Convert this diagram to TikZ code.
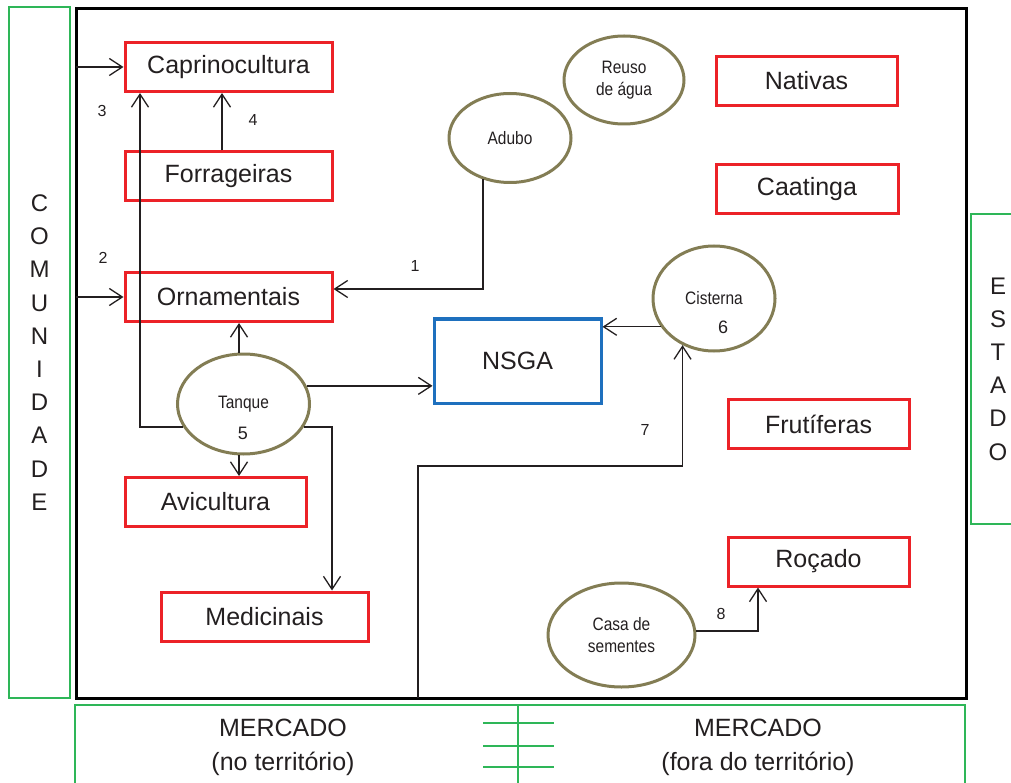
\documentclass[tikz,border=0pt]{standalone}
\usepackage{fontspec}
\setmainfont{Liberation Sans}
\newfontfamily\narrowsans[FakeStretch=0.86]{Liberation Sans}
\usetikzlibrary{arrows.meta,shapes.geometric}
\definecolor{boxred}{RGB}{236,34,40}
\definecolor{zonegreen}{RGB}{46,182,88}
\definecolor{hubblue}{RGB}{30,112,190}
\definecolor{resolive}{RGB}{131,125,84}
\definecolor{ink}{RGB}{35,31,32}
\begin{document}
\begin{tikzpicture}[x=1pt,y=-1pt,
  every node/.style={text=ink},
  unit/.style={draw=boxred, line width=3pt, minimum width=207pt, minimum height=49pt,
    inner sep=0pt, font=\fontsize{25}{30}\selectfont},
  hub/.style={draw=hubblue, line width=3pt, minimum width=167pt, minimum height=84pt,
    inner sep=0pt, font=\fontsize{25}{30}\selectfont},
  resource/.style={ellipse, draw=resolive, line width=3pt, inner sep=0pt, align=center,
    font=\narrowsans\fontsize{18}{22}\selectfont},
  zone/.style={draw=zonegreen, line width=2.5pt, inner sep=0pt, outer sep=0pt},
  zonetext/.style={align=center, font=\fontsize{24}{33.2}\selectfont},
  num/.style={font=\fontsize{16}{19}\selectfont, inner sep=0pt},
  flow/.style={draw=ink, line width=1.3pt, -{Straight Barb[length=13pt,width=17pt]}},
  link/.style={draw=ink, line width=1.3pt}
]
\useasboundingbox (0,0) rectangle (1011,783);
\clip (0,0) rectangle (1011,783);

% surrounding zones
\node[zone, minimum width=61pt, minimum height=691pt, zonetext] (comu) at (39.5,352.5)
  {C\\O\\M\\U\\N\\I\\D\\A\\D\\E};
\node[zone, minimum width=54pt, minimum height=310pt, zonetext] (esta) at (998,369)
  {E\\S\\T\\A\\D\\O};
\node[zone, minimum width=890pt, minimum height=130pt] (merc) at (520,770) {};
\node[zonetext, font=\fontsize{25}{34}\selectfont] (mercin) at (283,747) {MERCADO\\(no território)};
\node[zonetext, font=\fontsize{25}{34}\selectfont] (mercout) at (758,747) {MERCADO\\(fora do território)};
\draw[zonegreen, line width=2pt] (518,705) -- (518,790)
  (483,723) -- (554,723) (483,746) -- (554,746) (483,767) -- (554,767);

% farm boundary
\node[draw=black, line width=3pt, minimum width=890pt, minimum height=689pt,
  outer sep=0pt, inner sep=0pt] (farm) at (521,353.5) {};

% production units
\node[unit] (capr) at (228.5,67) {Caprinocultura};
\node[unit] (forr) at (228.5,176.5) {Forrageiras};
\node[unit] (orna) at (228.5,297) {Ornamentais};
\node[unit, minimum width=181pt] (avic) at (215.5,502) {Avicultura};
\node[unit] (medi) at (264.5,616.5) {Medicinais};
\node[unit, minimum width=181pt] (nati) at (806.5,81) {Nativas};
\node[unit, minimum width=182pt] (caat) at (807,189) {Caatinga};
\node[unit, minimum width=181pt] (frut) at (818.5,424) {Frutíferas};
\node[unit, minimum width=181pt] (roca) at (818.5,561.5) {Roçado};
\node[hub] (nsga) at (517.5,361) {NSGA};

% resources
\node[resource, minimum width=120pt, minimum height=88pt] (reus) at (624,80) {Reuso\\de água};
\node[resource, minimum width=122pt, minimum height=89pt] (adub) at (510,138) {Adubo};
\node[resource, minimum width=122pt, minimum height=105pt] (cist) at (714,298.5) {Cisterna};
\node[resource, minimum width=132pt, minimum height=100pt] (tanq) at (243.5,404) {Tanque};
\node[resource, minimum width=147pt, minimum height=104pt] (casa) at (621.5,635) {Casa de\\sementes};
\node[num, font=\fontsize{18}{22}\selectfont] (n5) at (243,433) {5};
\node[num, font=\fontsize{18}{22}\selectfont] (n6) at (723,327) {6};

% helper coordinates for connector routes
\coordinate (x3) at (140,0);
\coordinate (x4) at (222,0);
\coordinate (xm) at (332,0);
\coordinate (x7) at (418,0);
\coordinate (y7) at (0,466);
\coordinate (x8) at (758,0);

% flows
\draw[flow] (farm.west |- capr.west) -- (capr.west);
\draw[flow] (farm.west |- orna.west) -- (orna.west);
\draw[flow] (forr.north -| x4) -- (capr.south -| x4);
\draw[flow] (tanq.201) -| (capr.south -| x3);
\draw[flow] (adub.237) |- ([yshift=8pt]orna.east);
\draw[flow] (tanq.95) -- (tanq.95 |- orna.south);
\draw[flow] (tanq.265) -- (tanq.265 |- avic.north);
\draw[flow] (tanq.16) -- (tanq.16 -| nsga.west);
\draw[flow] (tanq.339) -| (medi.north -| xm);
\draw[flow] (cist.208) -- (cist.208 -| nsga.east);
\draw[flow] (farm.south -| x7) |- (y7 -| cist.236) -- (cist.236);
\draw[flow] (casa.3) -| (roca.south -| x8);

% flow numbers
\node[num] (n1) at (415,266) {1};
\node[num] (n2) at (103,258) {2};
\node[num] (n3) at (102,111) {3};
\node[num] (n4) at (253,120) {4};
\node[num] (n7) at (645,430) {7};
\node[num] (n8) at (721,614) {8};
\end{tikzpicture}
\end{document}
